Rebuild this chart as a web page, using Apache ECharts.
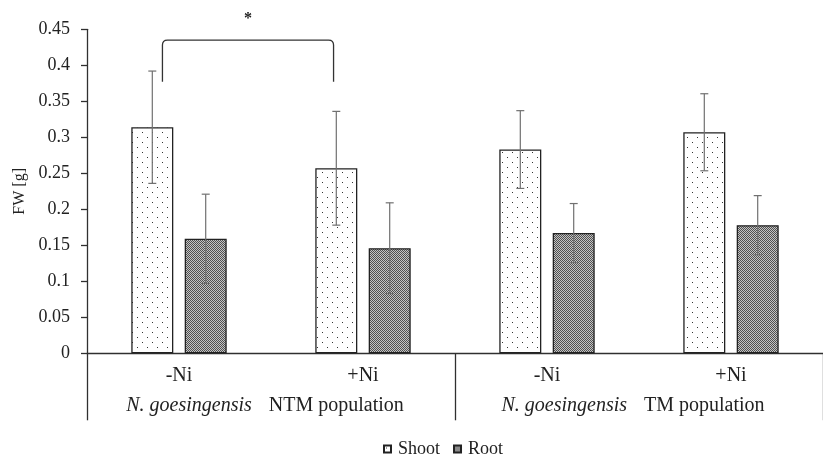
<!DOCTYPE html>
<html>
<head>
<meta charset="utf-8">
<script src="https://cdn.jsdelivr.net/npm/echarts@6/dist/echarts.min.js"></script>
<style>
html,body{margin:0;padding:0;background:#fff;}
#chart{width:823px;height:461px;}
</style>
</head>
<body>
<div id="chart"></div>
<script>
// ---- data ----
const categories = ['-Ni', '+Ni', '-Ni', '+Ni'];
const groupLabels = ['{i|N. goesingensis} NTM population', '{i|N. goesingensis} TM population'];
const seriesNames = ['Shoot', 'Root'];
const shootMean = [0.314, 0.257, 0.283, 0.307];
const shootErr = [0.078, 0.079, 0.054, 0.0535];
const rootMean = [0.159, 0.146, 0.167, 0.178];
const rootErr = [0.062, 0.063, 0.041, 0.041];
const yTicks = { min: 0, max: 0.45, interval: 0.05 };
// significance bracket: [fromCategory, toCategory, topValue, legValue, label]
const sigBrackets = [[0, 1, 0.435, 0.377, '*']];

// ---- styles ----
const FONT = 'Liberation Serif';
const FS = 18;
const XFS = 20;
const BAR_W = 42;
const BAR_GAP = 11.4;

function makePattern(draw, w, h) {
  const c = document.createElement('canvas');
  c.width = w; c.height = h;
  const ctx = c.getContext('2d');
  draw(ctx);
  return { image: c, repeat: 'repeat' };
}
const shootPattern = makePattern(function (ctx) {
  ctx.fillStyle = '#fff'; ctx.fillRect(0, 0, 10, 10);
  ctx.fillStyle = '#333';
  ctx.fillRect(2, 2, 1, 1);
  ctx.fillRect(7, 7, 1, 1);
}, 10, 10);
const rootPattern = makePattern(function (ctx) {
  ctx.fillStyle = '#c4c4c4'; ctx.fillRect(0, 0, 2, 2);
  ctx.fillStyle = '#505050';
  ctx.fillRect(0, 0, 1, 1);
  ctx.fillRect(1, 1, 1, 1);
}, 2, 2);

function errorSeries(means, errs, side) {
  return {
    type: 'custom',
    silent: true,
    z: 5,
    data: means.map(function (m, i) { return [i, m - errs[i], m + errs[i]]; }),
    renderItem: function (params, api) {
      const off = side * (BAR_W + BAR_GAP) / 2;
      const lo = api.coord([api.value(0), api.value(1)]);
      const hi = api.coord([api.value(0), api.value(2)]);
      const x = lo[0] + off;
      const cap = 4;
      const st = { stroke: '#707070', lineWidth: 1.2 };
      return {
        type: 'group',
        children: [
          { type: 'line', shape: { x1: x, y1: lo[1], x2: x, y2: hi[1] }, style: st },
          { type: 'line', shape: { x1: x - cap, y1: hi[1], x2: x + cap, y2: hi[1] }, style: st },
          { type: 'line', shape: { x1: x - cap, y1: lo[1], x2: x + cap, y2: lo[1] }, style: st }
        ]
      };
    }
  };
}

const chart = echarts.init(document.getElementById('chart'), null, { renderer: 'canvas' });
chart.setOption({
  animation: false,
  textStyle: { fontFamily: FONT, color: '#000' },
  grid: { left: 87, top: 29.3, width: 748, height: 324, containLabel: false },
  legend: {
    bottom: -2,
    left: 378,
    itemWidth: 7,
    itemHeight: 7,
    itemGap: 13,
    icon: 'rect',
    textStyle: { fontFamily: FONT, fontSize: 18, color: '#222', padding: [0, 0, 0, 2] },
    data: seriesNames
  },
  xAxis: [
    {
      type: 'category',
      data: categories,
      axisLine: { show: true, lineStyle: { color: '#303030', width: 1.3 } },
      axisTick: { show: false },
      axisLabel: { interval: 0, margin: 12, fontSize: XFS, fontFamily: FONT, color: '#222' }
    },
    {
      type: 'category',
      data: groupLabels,
      position: 'bottom',
      offset: 0,
      axisLine: { show: false },
      axisTick: { show: true, length: 67, interval: 0, lineStyle: { color: '#303030', width: 1.3 } },
      axisLabel: {
        interval: 0, hideOverlap: false,
        margin: 42, fontSize: XFS, fontFamily: FONT, color: '#222',
        padding: [0, 12, 0, 0],
        rich: { i: { fontStyle: 'italic', fontSize: XFS, fontFamily: FONT, color: '#222', padding: [0, 12, 0, 0] } }
      }
    }
  ],
  yAxis: {
    type: 'value',
    min: yTicks.min, max: yTicks.max, interval: yTicks.interval,
    name: 'FW [g]',
    nameLocation: 'middle',
    nameGap: 53,
    nameTextStyle: { fontFamily: FONT, fontSize: 16, color: '#222' },
    axisLine: { show: true, lineStyle: { color: '#303030', width: 1.3 } },
    axisTick: { show: true, length: 6, lineStyle: { color: '#303030', width: 1.3 } },
    splitLine: { show: false },
    axisLabel: { margin: 17, fontSize: FS, fontFamily: FONT, color: '#222' }
  },
  series: [
    {
      name: seriesNames[0], type: 'bar', data: shootMean,
      barWidth: BAR_W, barGap: (BAR_GAP / BAR_W * 100) + '%',
      itemStyle: { color: shootPattern, borderColor: '#222', borderWidth: 1.3 }
    },
    {
      name: seriesNames[1], type: 'bar', data: rootMean,
      barWidth: BAR_W,
      itemStyle: { color: rootPattern, borderColor: '#222', borderWidth: 1.3 }
    },
    errorSeries(shootMean, shootErr, -1),
    errorSeries(rootMean, rootErr, 1),
    {
      type: 'custom',
      silent: true,
      z: 6,
      data: sigBrackets,
      renderItem: function (params, api) {
        const band = api.size([1, 0])[0];
        const a = api.coord([api.value(0), api.value(2)]);
        const b = api.coord([api.value(1), api.value(2)]);
        const legY = api.coord([api.value(0), api.value(3)])[1];
        const x1 = a[0] - 0.09 * band;
        const x2 = b[0] - 0.16 * band;
        const y = a[1];
        const r = 5;
        const d = 'M' + x1 + ' ' + legY + ' L' + x1 + ' ' + (y + r) +
          ' Q' + x1 + ' ' + y + ' ' + (x1 + r) + ' ' + y +
          ' L' + (x2 - r) + ' ' + y +
          ' Q' + x2 + ' ' + y + ' ' + x2 + ' ' + (y + r) +
          ' L' + x2 + ' ' + legY;
        const lbl = sigBrackets[params.dataIndex][4];
        return {
          type: 'group',
          children: [
            { type: 'path', shape: { pathData: d }, style: { stroke: '#333', lineWidth: 1.3, fill: null } },
            { type: 'text', style: { text: lbl, x: (x1 + x2) / 2, y: y - 21, align: 'center', verticalAlign: 'middle',
              font: 'bold 16px ' + FONT, fill: '#222' } }
          ]
        };
      }
    }
  ]
});
</script>
</body>
</html>
